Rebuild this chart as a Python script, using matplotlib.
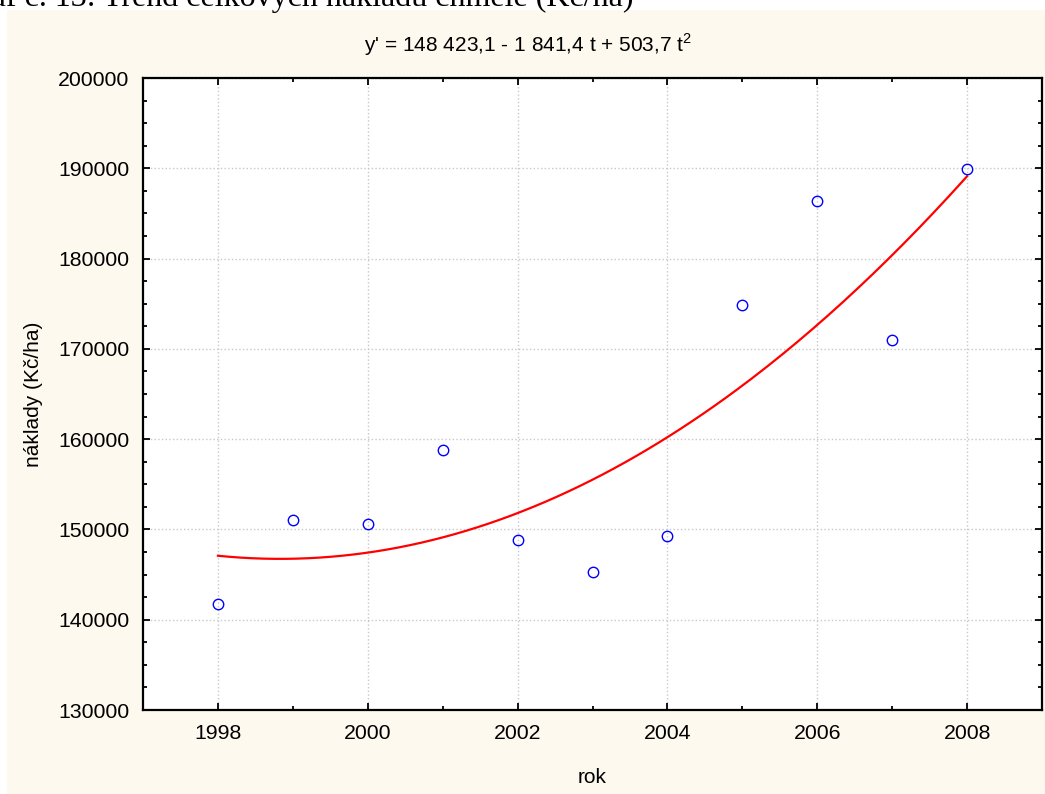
import numpy as np
import matplotlib
matplotlib.use('Agg')
import matplotlib.pyplot as plt
from matplotlib.ticker import MultipleLocator
from matplotlib.patches import Rectangle

plt.rcParams['font.family'] = ['Liberation Sans', 'DejaVu Sans']

# data
years = [1998, 1999, 2000, 2001, 2002, 2003, 2004, 2005, 2006, 2007, 2008]
costs = [141700, 151000, 150600, 158800, 148800, 145300, 149300, 174900, 186400, 171000, 189900]

# trend coefficients from the equation shown above the plot (t = 1 for 1998)
trend_coef = [148423.1, -1841.4, 503.7]

title_text = r"y' = 148 423,1 - 1 841,4 t + 503,7 t$^{\mathregular{2}}$"
caption_text = "Graf \u010d. 13: Trend celkov\u00fdch n\u00e1klad\u016f chmele (K\u010d/ha)"

W, H = 1045, 794
fig = plt.figure(figsize=(W / 100, H / 100), dpi=100)
fig.patch.set_facecolor('white')

# cream panel behind the chart
fig.patches.append(Rectangle((7 / W, 0), 1.0, 1 - 10 / H, transform=fig.transFigure,
                             facecolor='#fef9ee', edgecolor='none', zorder=-5))

# caption of the page, cut off by the top edge
fig.text(633 / W, 1 - 6 / H, caption_text, ha='right', va='baseline',
         fontsize=23, family='Liberation Serif', color='black')

ax = fig.add_axes([143 / W, 1 - 710 / H, (1042 - 143) / W, (710 - 78) / H])
ax.set_facecolor('white')

# trend curve
t = np.linspace(1, len(years), 200)
trend = trend_coef[0] + trend_coef[1] * t + trend_coef[2] * t ** 2
ax.plot(t + years[0] - 1, trend, color='red', lw=1.6, zorder=3)

# observed values
ax.plot(years, costs, linestyle='none', marker='o', markersize=7.5,
        markerfacecolor='none', markeredgecolor='blue', markeredgewidth=1.0, zorder=4)

ax.set_xlim(1997, 2009)
ax.set_ylim(130000, 200000)
ax.xaxis.set_major_locator(MultipleLocator(2))
ax.xaxis.set_minor_locator(MultipleLocator(1))
ax.yaxis.set_major_locator(MultipleLocator(10000))
ax.yaxis.set_minor_locator(MultipleLocator(2500))

ax.tick_params(which='both', direction='in', top=True, right=True, width=1.3)
ax.tick_params(which='major', length=5, labelsize=15.3, pad=10)
ax.tick_params(which='minor', length=3)

for s in ax.spines.values():
    s.set_linewidth(1.6)

ax.grid(True, which='major', color='#c8c8c8', linestyle=':', linewidth=1.0)
ax.set_axisbelow(True)

ax.set_xlabel('rok', fontsize=15, labelpad=18)
ax.set_ylabel('n\u00e1klady (K\u010d/ha)', fontsize=15, labelpad=11)

fig.text(528 / W, 1 - 45 / H, title_text, ha='center', va='center', fontsize=15)

fig.savefig('out.png', dpi=100, facecolor=fig.get_facecolor())
